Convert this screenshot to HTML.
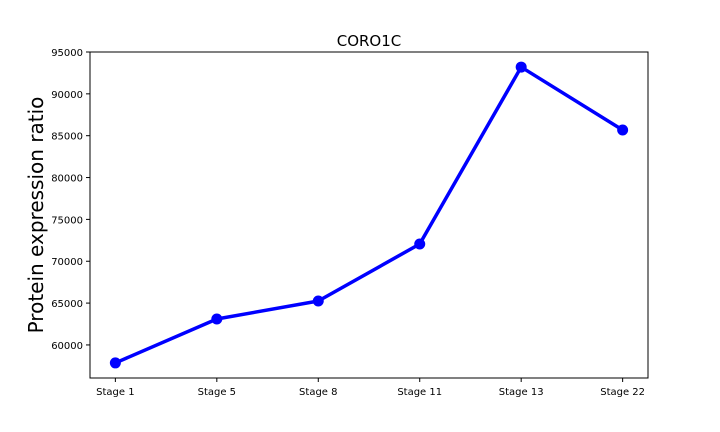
<!DOCTYPE html>
<html><head><meta charset="utf-8">
<style>
html,body{margin:0;padding:0;background:#fff;}
svg{display:block;font-family:"DejaVu Sans","Liberation Sans",sans-serif;}
</style></head>
<body>
<svg id="chart" width="720" height="432" viewBox="0 0 720 432"></svg>
<script>
const categories = ["Stage 1","Stage 5","Stage 8","Stage 11","Stage 13","Stage 22"];
const values = [57850, 63100, 65250, 72060, 93200, 85680];
const yTicks = [60000, 65000, 70000, 75000, 80000, 85000, 90000, 95000];
const yMin = 56050, yMax = 95000;

const L=90, R=648, T=52, B=378;
const NS="http://www.w3.org/2000/svg";
const svg=document.getElementById('chart');
function xS(i){ return L + (i + 0.25) * (R - L) / (categories.length - 1 + 0.5); }
function yS(v){ return B - (v - yMin) / (yMax - yMin) * (B - T); }
function mk(tag, attrs, parent){
  const e=document.createElementNS(NS,tag);
  for(const k in attrs) e.setAttribute(k, attrs[k]);
  (parent||svg).appendChild(e); return e;
}

const frame=mk('rect',{x:L,y:T,width:R-L,height:B-T,fill:'none',stroke:'#000','stroke-width':1});



yTicks.forEach(v=>{
  const y=yS(v);
  const t=mk('line',{x1:L-4,x2:L,y1:y,y2:y,stroke:'#000'});
  
  
  const l=mk('text',{x:L-7,y:y+4,'text-anchor':'end','font-size':10,fill:'#000'});
  l.textContent=v;
  
  
});
categories.forEach((c,i)=>{
  const x=xS(i);
  const t=mk('line',{x1:x,x2:x,y1:B,y2:B+4,stroke:'#000'});
  
  
  const l=mk('text',{x:x,y:B+17,'text-anchor':'middle','font-size':10,fill:'#000'});
  l.textContent=c;
  
  
});

const pts=values.map((v,i)=>xS(i)+','+yS(v)).join(' ');
const line=mk('polyline',{points:pts,fill:'none',stroke:'#0000ff','stroke-width':3.5,'stroke-linejoin':'round'});


values.forEach((v,i)=>{
  const c=mk('circle',{cx:xS(i),cy:yS(v),r:5.5,fill:'#0000ff'});
  
  
});

const title=mk('text',{x:(L+R)/2,y:46,'text-anchor':'middle','font-size':15,fill:'#000'});
title.textContent='CORO1C';



const yt=mk('text',{x:0,y:0,'text-anchor':'middle','font-size':20,fill:'#000',transform:'translate(43,'+((T+B)/2)+') rotate(-90)'});
yt.textContent='Protein expression ratio';


</script>
</body></html>
